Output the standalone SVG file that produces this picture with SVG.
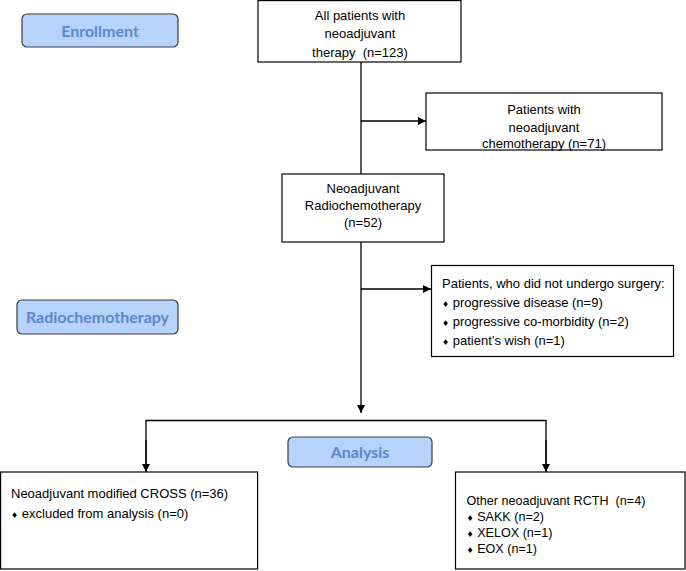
<svg xmlns="http://www.w3.org/2000/svg" width="686" height="571" viewBox="0 0 686 571">
<defs>
<marker id="arr" viewBox="0 0 10 10" refX="10" refY="5" markerWidth="8" markerHeight="8" markerUnits="userSpaceOnUse" orient="auto">
<path d="M0,0 L10,5 L0,10 z" fill="#000"/>
</marker>
<style>
.box{fill:#fff;stroke:#000;stroke-width:1.2}
.phase{fill:#b7d3fc;stroke:#3a3a3a;stroke-width:1.2}
.ptxt{font-family:Lato,"Open Sans",sans-serif;font-weight:bold;font-size:16px;fill:#5a88c8;text-anchor:middle}
.t{font-family:"Liberation Sans",Arial,sans-serif;font-size:13px;fill:#000;white-space:pre}
.s{font-size:12.6px}
.c{text-anchor:middle}
.b{font-family:"DejaVu Sans",sans-serif;font-size:8px}
.ln{fill:none;stroke:#000;stroke-width:1.3}
</style>
</defs>
<rect width="686" height="571" fill="#fff"/>

<g id="phase-enrollment">
<rect class="phase" x="22" y="14" width="156" height="33" rx="5"/>
<text class="ptxt" x="100" y="36.5">Enrollment</text>
</g>
<g id="phase-radiochemotherapy">
<rect class="phase" x="17" y="300" width="161" height="34" rx="5"/>
<text class="ptxt" x="97.5" y="322.5">Radiochemotherapy</text>
</g>
<g id="phase-analysis">
<rect class="phase" x="288" y="437" width="144" height="30" rx="5"/>
<text class="ptxt" x="360" y="458">Analysis</text>
</g>

<g id="node-all">
<rect class="box" x="258" y="0.6" width="203" height="61.4"/>
<text class="t c" x="360" y="20">All patients with</text>
<text class="t c" x="360" y="38">neoadjuvant</text>
<text class="t c" x="360" y="57" xml:space="preserve">therapy  (n=123)</text>
</g>
<g id="node-chemo">
<rect class="box" x="426" y="93" width="236" height="57"/>
<text class="t c" x="544" y="113.5">Patients with</text>
<text class="t c" x="544" y="131.5">neoadjuvant</text>
<text class="t c" x="544" y="148">chemotherapy (n=71)</text>
</g>
<g id="node-rct">
<rect class="box" x="282" y="174" width="162" height="68"/>
<text class="t c" x="363" y="192.5">Neoadjuvant</text>
<text class="t c" x="363" y="209.5">Radiochemotherapy</text>
<text class="t c" x="363" y="226.5">(n=52)</text>
</g>
<g id="node-nosurgery">
<rect class="box" x="431.5" y="265.5" width="242" height="91"/>
<text class="t" x="442" y="288">Patients, who did not undergo surgery:</text>
<text class="t" x="442" y="307"><tspan class="b">♦</tspan> progressive disease (n=9)</text>
<text class="t" x="442" y="326"><tspan class="b">♦</tspan> progressive co-morbidity (n=2)</text>
<text class="t" x="442" y="345"><tspan class="b">♦</tspan> patient’s wish (n=1)</text>
</g>
<g id="node-cross">
<rect class="box" x="0.6" y="472" width="257" height="97"/>
<text class="t" x="11" y="498">Neoadjuvant modified CROSS (n=36)</text>
<text class="t" x="11" y="518"><tspan class="b">♦</tspan> excluded from analysis (n=0)</text>
</g>
<g id="node-other">
<rect class="box" x="455.5" y="472" width="229.5" height="97"/>
<text class="t s" x="466.5" y="505" xml:space="preserve">Other neoadjuvant RCTH  (n=4)</text>
<text class="t s" x="466.5" y="521"><tspan class="b">♦</tspan> SAKK (n=2)</text>
<text class="t s" x="466.5" y="537"><tspan class="b">♦</tspan> XELOX (n=1)</text>
<text class="t s" x="466.5" y="553"><tspan class="b">♦</tspan> EOX (n=1)</text>
</g>

<g id="connectors">
<line class="ln" x1="361" y1="62" x2="361" y2="174"/>
<line class="ln" x1="361" y1="121" x2="426" y2="121" marker-end="url(#arr)"/>
<line class="ln" x1="361" y1="242" x2="361" y2="413" marker-end="url(#arr)"/>
<line class="ln" x1="361" y1="289" x2="431" y2="289" marker-end="url(#arr)"/>
<polyline class="ln" points="146,472 146,420.5 546,420.5 546,472"/>
<line class="ln" x1="146" y1="440" x2="146" y2="472" marker-end="url(#arr)"/>
<line class="ln" x1="546" y1="440" x2="546" y2="472" marker-end="url(#arr)"/>
</g>
</svg>
